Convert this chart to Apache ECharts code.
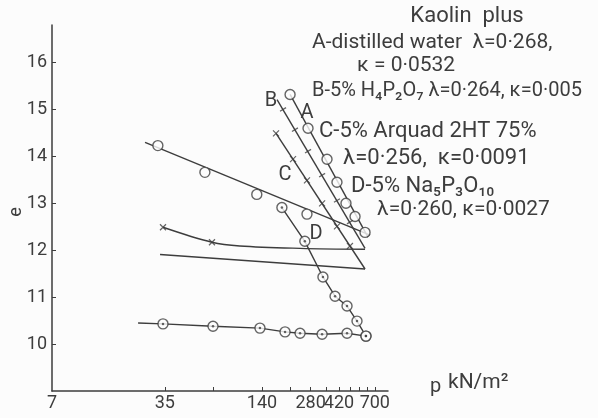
<!DOCTYPE html>
<html><head><meta charset="utf-8">
<script src="https://cdn.jsdelivr.net/npm/echarts@6/dist/echarts.min.js"></script>
<style>html,body{margin:0;padding:0;background:#fcfcfc}#c{width:598px;height:418px}</style>
</head><body><div id="c"></div><script>
// ---- axis ticks ----
const xTickLabels = [7, 35, 140, 280, 420, 700];
const xTicks = [35, 70, 140, 210, 280, 350, 420, 490, 560, 630, 700];
const yTickLabels = [10, 11, 12, 13, 14, 15, 16];

// ---- A: distilled water ----
const aLoadP = [209, 270, 354, 408, 464, 528, 609];
const aLoadE = [15.32, 14.60, 13.94, 13.45, 13.00, 12.72, 12.38];
const aLineP = [209, 635];
const aLineE = [15.32, 12.28];
const aUnloadP = [31.7, 62, 130, 266];
const aUnloadE = [14.23, 13.66, 13.19, 12.77];
const aUnloadLineP = [26.4, 654];
const aUnloadLineE = [14.30, 12.32];

// ---- B: 5% H4P2O7 ----
const bLineP = [173.5, 609];
const bLineE = [15.21, 12.04];
const bMarkP = [189, 224, 270, 330, 408, 491];
const bMarkE = [15.00, 14.57, 14.11, 13.60, 13.06, 12.60];
const bUnloadP = [32.7, 609];
const bUnloadE = [11.91, 11.60];

// ---- C: 5% Arquad 2HT ----
const cLineP = [171, 609];
const cLineE = [14.49, 11.60];
const cMarkP = [171, 218, 266, 330, 408, 491];
const cMarkE = [14.49, 13.94, 13.49, 13.00, 12.51, 12.09];
const cUnloadP = [34.1, 68.6, 102, 241, 609];
const cUnloadE = [12.49, 12.17, 12.09, 12.04, 12.02];
const cUnloadMarkP = [34.1, 68.6];
const cUnloadMarkE = [12.49, 12.17];

// ---- D: 5% Na5P3O10 ----
const dLoadP = [186, 258, 334, 397, 471, 543, 617];
const dLoadE = [12.91, 12.19, 11.43, 11.02, 10.81, 10.49, 10.17];
const dUnloadLineP = [23.9, 34.1];
const dUnloadLineE = [10.45, 10.43];
const dUnloadP = [34.1, 69.6, 136, 194.5, 241, 330, 471, 617];
const dUnloadE = [10.43, 10.38, 10.34, 10.26, 10.23, 10.21, 10.23, 10.17];

const zip = (xs, ys) => xs.map((x, i) => [x, ys[i]]);
const INK = '#3d3d3d';
const FONT = 'Roboto, "Open Sans", "DejaVu Sans", sans-serif';

const lineStyle = { color: INK, width: 1.4 };
const plainLine = (name, data, extra) => Object.assign({
  name, type: 'line', data, symbol: 'none', lineStyle, silent: true, z: 2
}, extra || {});
const circleStyle = { color: '#fcfcfc', borderColor: INK, borderWidth: 1.4 };
const crossSym = 'path://M0,0L10,10M10,0L0,10';

const series = [
  plainLine('A line', zip(aLineP, aLineE)),
  plainLine('A unload line', zip(aUnloadLineP, aUnloadLineE)),
  { type: 'scatter', data: zip(aLoadP, aLoadE), symbol: 'circle', symbolSize: 10, itemStyle: circleStyle, z: 3 },
  { type: 'scatter', data: zip(aUnloadP, aUnloadE), symbol: 'circle', symbolSize: 10, itemStyle: circleStyle, z: 3 },

  plainLine('B line', zip(bLineP, bLineE)),
  { type: 'scatter', data: zip(bMarkP, bMarkE), symbol: 'rect', symbolSize: [7, 1.3], symbolRotate: 31, itemStyle: { color: INK }, z: 3 },
  plainLine('B unload', zip(bUnloadP, bUnloadE)),

  plainLine('C line', zip(cLineP, cLineE)),
  { type: 'scatter', data: zip(cMarkP, cMarkE), symbol: crossSym, symbolSize: 6,
    itemStyle: { color: 'none', borderColor: INK, borderWidth: 1.2 }, z: 3 },
  plainLine('C unload', zip(cUnloadP, cUnloadE), { smooth: 0.35 }),
  { type: 'scatter', data: zip(cUnloadMarkP, cUnloadMarkE), symbol: crossSym, symbolSize: 6,
    itemStyle: { color: 'none', borderColor: INK, borderWidth: 1.2 }, z: 3 },

  plainLine('D line', zip(dLoadP, dLoadE)),
  plainLine('D unload line', zip(dUnloadLineP, dUnloadLineE)),
  plainLine('D unload', zip(dUnloadP, dUnloadE)),
  { type: 'scatter', data: zip(dLoadP, dLoadE).concat(zip(dUnloadP, dUnloadE)), symbol: 'circle', symbolSize: 10, itemStyle: circleStyle, z: 3 },
  { type: 'scatter', data: zip(dLoadP, dLoadE).concat(zip(dUnloadP, dUnloadE)), symbol: 'circle', symbolSize: 2.5, itemStyle: { color: INK }, z: 4 }
];

const txt = (text, x, y, size, extra) => ({
  type: 'text', x, y, silent: true, z: 10,
  style: Object.assign({ text, fontSize: size, fontFamily: FONT, fill: INK, verticalAlign: 'middle', align: 'left' }, extra || {})
});

const chart = echarts.init(document.getElementById('c'), null, { renderer: 'canvas' });
chart.setOption({
  animation: false,
  backgroundColor: '#fcfcfc',
  grid: { left: 52, right: 210, top: 25, bottom: 27, containLabel: false },
  xAxis: {
    type: 'log', min: 7, max: 845, logBase: 10,
    axisLine: { lineStyle: { color: INK, width: 1.5 } },
    axisTick: { inside: true, length: 4, customValues: xTicks, lineStyle: { color: INK } },
    minorTick: { show: false },
    splitLine: { show: false },
    axisLabel: { customValues: xTickLabels, formatter: v => String(Math.round(v)), color: INK,
      fontSize: 18, fontFamily: FONT, margin: 3, hideOverlap: false }
  },
  yAxis: {
    type: 'value', min: 9, max: 16.8, interval: 1,
    axisLine: { show: true, lineStyle: { color: INK, width: 1.5 } },
    axisTick: { show: true, inside: true, length: 4, customValues: yTickLabels, lineStyle: { color: INK } },
    splitLine: { show: false },
    axisLabel: { customValues: yTickLabels, color: INK, fontSize: 18, fontFamily: FONT, margin: 5 }
  },
  series,
  graphic: [
    txt('Kaolin  plus', 467, 16, 22, { align: 'center' }),
    txt('A-distilled water  λ=0·268,', 312, 43, 21),
    txt('κ = 0·0532', 357, 66, 21),
    txt('B-5% H₄P₂O₇ λ=0·264, κ=0·005', 312, 91, 20),
    txt('C-5% Arquad 2HT 75%', 319, 131, 22),
    txt('λ=0·256,  κ=0·0091', 343, 158, 22),
    txt('D-5% Na₅P₃O₁₀', 351, 186, 22),
    txt('λ=0·260, κ=0·0027', 377, 210, 21),
    txt('p', 430, 387, 20),
    txt('kN/m²', 448, 383, 21),
    txt('A', 307, 113, 20, { align: 'center' }),
    txt('B', 271, 101, 20, { align: 'center' }),
    txt('C', 285, 175, 20, { align: 'center' }),
    txt('D', 316, 234, 20, { align: 'center' }),
    { type: 'text', x: 16, y: 212, rotation: Math.PI / 2, silent: true, z: 10,
      style: { text: 'e', fontSize: 18, fontFamily: FONT, fill: INK, align: 'center', verticalAlign: 'middle' } }
  ]
});
</script></body></html>
